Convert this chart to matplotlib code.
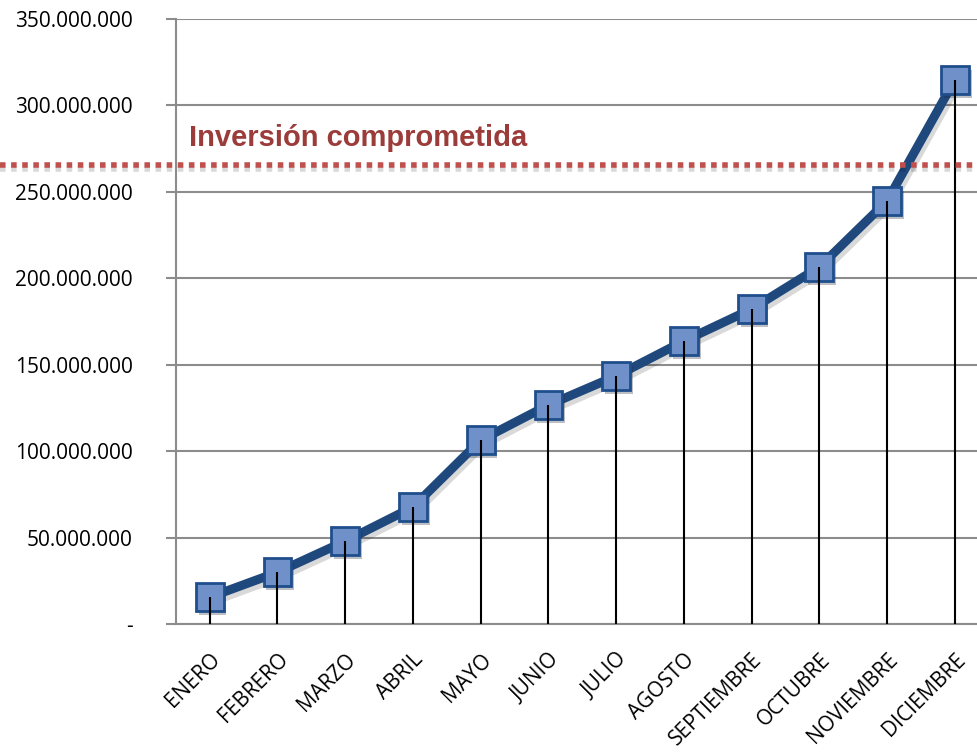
import matplotlib
matplotlib.use("Agg")
import matplotlib.pyplot as plt
import matplotlib.patheffects as pe
from matplotlib.lines import Line2D
from matplotlib.transforms import blended_transform_factory
from matplotlib.ticker import FuncFormatter

# Data
meses = ['ENERO', 'FEBRERO', 'MARZO', 'ABRIL', 'MAYO', 'JUNIO', 'JULIO',
         'AGOSTO', 'SEPTIEMBRE', 'OCTUBRE', 'NOVIEMBRE', 'DICIEMBRE']
acumulado = [15.6e6, 30.0e6, 48.0e6, 67.7e6, 106.4e6, 126.7e6, 143.5e6,
             163.7e6, 182.2e6, 206.5e6, 244.7e6, 314.7e6]
inversion_comprometida = 265.5e6
etiqueta_inversion = 'Inversión comprometida'

fig = plt.figure(figsize=(9.77, 7.52), dpi=100)
ax = fig.add_axes([0.180, 0.170, 0.832, 0.805])

x = list(range(len(meses)))

# thick line
ax.plot(x, acumulado, color='#1F497D', lw=6.5, zorder=3,
        path_effects=[pe.SimpleLineShadow(offset=(2, -3), alpha=0.15), pe.Normal()])
# square markers
ax.plot(x, acumulado, linestyle='none', zorder=3.5,
        marker='s', ms=20, mfc='#6F90C8', mec='#1F4E8C', mew=2,
        path_effects=[pe.SimplePatchShadow(offset=(2, -3), alpha=0.3), pe.Normal()])
# drop lines
ax.vlines(x, 0, acumulado, color='black', lw=1.5, zorder=4)

ax.set_xlim(-0.5, len(meses) - 0.5)
ax.set_ylim(0, 350e6)
ax.set_yticks(range(0, 350000001, 50000000))

def fmt(v, pos):
    if v == 0:
        return '-'
    return f'{int(v):,}'.replace(',', '.')

ax.yaxis.set_major_formatter(FuncFormatter(fmt))
ax.set_xticks(x)
ax.set_xticklabels(meses, rotation=45, ha='right', rotation_mode='anchor',
                   fontsize=15, family='Open Sans')
for lab in ax.get_yticklabels():
    lab.set_fontsize(15)
    lab.set_family('Open Sans')

ax.grid(axis='y', color='#8C8C8C', lw=1.5)
ax.set_axisbelow(True)
for s in ['top', 'right']:
    ax.spines[s].set_visible(False)
ax.spines['left'].set_color('#8C8C8C')
ax.spines['left'].set_linewidth(1.5)
ax.spines['bottom'].set_color('#8C8C8C')
ax.spines['bottom'].set_linewidth(1.5)
ax.tick_params(axis='y', length=7, color='#8C8C8C', width=1.5, pad=24)
ax.tick_params(axis='x', length=0, pad=18)

# committed investment line across whole figure
tr = blended_transform_factory(fig.transFigure, ax.transData)
ref = Line2D([0, 1], [inversion_comprometida, inversion_comprometida], transform=tr,
             color='#C0504D', lw=4, linestyle=(0, (1, 1)), zorder=5,
             path_effects=[pe.SimpleLineShadow(offset=(0, -3), alpha=0.15), pe.Normal()])
fig.add_artist(ref)

ax.text(-0.3, 281e6, etiqueta_inversion, color='#9B3B3A', fontsize=21,
        fontweight='bold', family='Liberation Sans', ha='left', va='center')

fig.savefig('out.png', dpi=100)
